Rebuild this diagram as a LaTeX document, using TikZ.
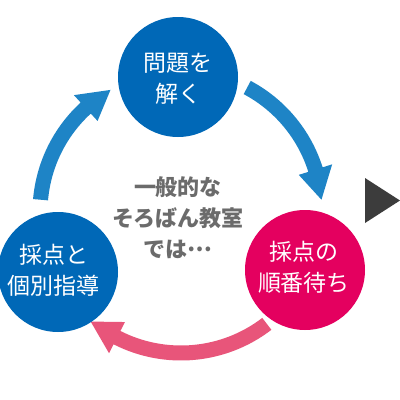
\documentclass[tikz,border=0pt]{standalone}
\usepackage{fontspec}
\setmainfont{Noto Sans CJK JP}
\definecolor{cblue}{HTML}{0068B7}
\definecolor{ablue}{HTML}{1E84C6}
\definecolor{cmag}{HTML}{E4005F}
\definecolor{apink}{HTML}{E8557A}
\definecolor{tgray}{HTML}{6B6B6B}
\definecolor{tri}{HTML}{3C3C3C}
\tikzset{
  stage/.style={circle, minimum size=120pt, inner sep=0pt},
  stagetext/.style={text=white, align=center, font=\fontsize{23}{31}\selectfont},
  centertext/.style={text=tgray, align=center, font=\fontsize{22}{31}\selectfont\bfseries},
}
\begin{document}
\begin{tikzpicture}[x=1pt,y=-1pt]
\useasboundingbox (0,0) rectangle (400,400);
\fill[white] (0,0) rectangle (400,400);
% arrows (band arcs around common centre)
\begin{scope}[shift={(181,212)}]
  % right blue arrow
  \fill[ablue] (-62:148.5) arc[start angle=-62, end angle=-17.5, radius=148.5]
    -- (-17.5:158.5) -- (-5:141) -- (-17.5:123.5) -- (-17.5:133.5)
    arc[start angle=-17.5, end angle=-62, radius=133.5] -- cycle;
  % left blue arrow
  \fill[ablue] (-175:148.5) arc[start angle=-175, end angle=-132.5, radius=148.5]
    -- (-132.5:158.5) -- (-120:141) -- (-132.5:123.5) -- (-132.5:133.5)
    arc[start angle=-132.5, end angle=-175, radius=133.5] -- cycle;
  % pink arrow
  \fill[apink] (52.5:148.5) arc[start angle=52.5, end angle=117, radius=148.5]
    -- (117:158.5) -- (129.5:142) -- (117:123.5) -- (117:133.5)
    arc[start angle=117, end angle=52.5, radius=133.5] -- cycle;
\end{scope}
% circles
\node[stage, fill=cblue] (solve) at (178,77) {};
\node[stage, fill=cblue] (guide) at (58,272) {};
\node[stage, fill=cmag] (wait) at (305,270) {};
\node[stagetext] (solvet) at (178,79) {問題を\\解く};
\node[stagetext] (guidet) at (54,270) {採点と\\個別指導};
\node[stagetext] (waitt) at (304,267) {採点の\\順番待ち};
% centre text
\node[centertext] (mid) at (178,218) {一般的な\\そろばん教室\\では\raisebox{0.3em}{…}};
% triangle
\fill[tri] (365,178) -- (365,223) -- (400,200.5) -- cycle;
\end{tikzpicture}
\end{document}
